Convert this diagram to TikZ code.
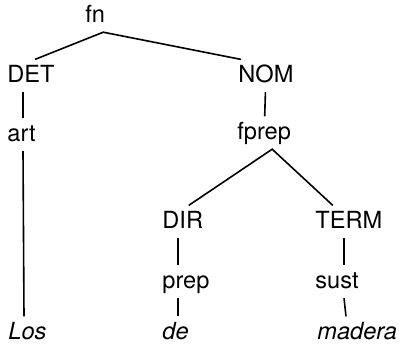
\documentclass[tikz,border=0pt]{standalone}
\usepackage{fontspec}
\setmainfont{TeX Gyre Heros}
\usetikzlibrary{positioning}
\tikzset{
  lab/.style={anchor=base west,inner sep=2.5pt,font=\fontsize{11.8}{14}\selectfont,text height=8.6pt,text depth=2.4pt},
  leaf/.style={lab,font=\fontsize{11.8}{14}\selectfont\itshape},
  edge/.style={line width=0.8pt,draw=black}
}
\begin{document}
\begin{tikzpicture}[x=0.5pt,y=-0.5pt]
  \useasboundingbox (0,0) rectangle (402,349);
  % tree nodes
  \node[lab] (fn) at (80,22) {fn};
  \node[lab] (det) at (2,82) {DET};
  \node[lab] (art) at (2,141) {art};
  \node[leaf] (los) at (3,339) {Los};
  \node[lab] (nom) at (233,82) {NOM};
  \node[lab] (fprep) at (232,139) {fprep};
  \node[lab] (dir) at (157,228) {DIR};
  \node[lab] (prep) at (157,288) {prep};
  \node[leaf] (de) at (157,339) {de};
  \node[lab] (term) at (310,228) {TERM};
  \node[lab] (sust) at (310,288) {sust};
  \node[leaf] (madera) at (312,339) {madera};
  % branches
  \draw[edge] ([xshift=2pt]det.north)--([xshift=4pt]fn.south)--([xshift=4pt]nom.north west);
  \draw[edge] (nom)--(fprep);
  \draw[edge] ([xshift=3pt]dir.north)--([xshift=4pt]fprep.south)--([xshift=-8pt]term.north);
  \draw[edge] ([xshift=10.5pt]det.south west)--([xshift=10.5pt]art.north west);
  \draw[edge] ([xshift=10.5pt]art.south west)--([xshift=10.5pt]los.north west);
  \draw[edge] ([xshift=10.5pt]dir.south west)--([xshift=10.5pt]prep.north west);
  \draw[edge] ([xshift=10.5pt]prep.south west)--([xshift=10.5pt]de.north west);
  \draw[edge] ([xshift=17pt]term.south west)--([xshift=17pt]sust.north west);
  \draw[edge] ([xshift=17pt]sust.south west)--([xshift=17pt]madera.north west);
\end{tikzpicture}
\end{document}
